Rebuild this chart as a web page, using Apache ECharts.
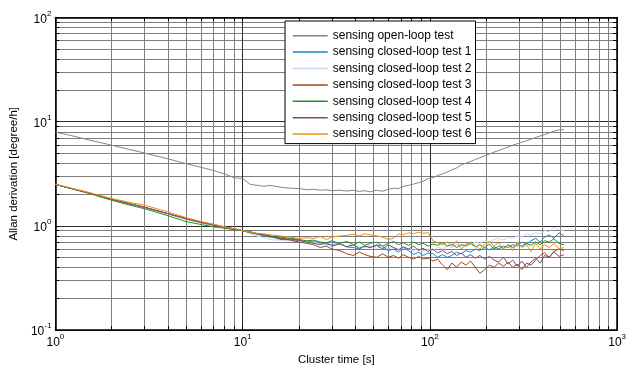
<!DOCTYPE html>
<html>
<head>
<meta charset="utf-8">
<script src="https://cdn.jsdelivr.net/npm/echarts@6/dist/echarts.min.js"></script>
<style>
  html, body { margin: 0; padding: 0; background: #fff; }
  #chart { width: 629px; height: 371px; }
</style>
</head>
<body>
<div id="chart"></div>
<script>
// Cluster times (s)
const tau = [1, 1.2, 1.5, 2, 2.5, 3, 4, 5, 6, 7, 8, 9, 10, 11, 12, 13, 14, 16, 18,
  20, 22, 24, 26, 28, 30, 33, 36, 39, 42, 45, 48, 52, 56, 60, 64, 68, 72,
  77, 82, 87, 92, 98, 104, 110, 117, 124, 131, 139, 147, 156, 165, 175, 185, 196,
  208, 220, 233, 247, 262, 277, 293, 310, 328, 347, 367, 388, 410, 434, 460, 490, 520];

// Allan deviation (degree/h)
const openLoop = [7.95, 7.4, 6.7, 5.95, 5.4, 5.0, 4.4, 3.95, 3.65, 3.4, 3.15, 2.9, 2.85, 2.5, 2.45, 2.4, 2.45, 2.35, 2.3,
  2.28, 2.22, 2.25, 2.2, 2.22, 2.18, 2.2, 2.16, 2.2, 2.14, 2.18, 2.12, 2.2, 2.15, 2.25, 2.3, 2.28, 2.4,
  2.45, 2.52, 2.6, 2.68, 2.85, 2.9, 3.05, 3.15, 3.3, 3.45, 3.6, 3.85, 4.0, 4.15, 4.35, 4.5, 4.7,
  4.9, 5.1, 5.3, 5.5, 5.7, 5.95, 6.15, 6.35, 6.55, 6.8, 7.05, 7.3, 7.5, 7.8, 8.1, 8.35, 8.4];

const closedLoop1 = [2.5, 2.3, 2.08, 1.8, 1.62, 1.5, 1.3, 1.16, 1.07, 1.01, 0.97, 0.93, 0.9, 0.86, 0.83, 0.8, 0.78, 0.76, 0.74,
  0.72, 0.7, 0.71, 0.68, 0.67, 0.66, 0.68, 0.63, 0.62, 0.6, 0.64, 0.62, 0.66, 0.63, 0.58, 0.6, 0.56, 0.62,
  0.58, 0.53, 0.56, 0.52, 0.55, 0.54, 0.5, 0.53, 0.5, 0.52, 0.56, 0.54, 0.58, 0.56, 0.6, 0.58, 0.62,
  0.59, 0.63, 0.6, 0.64, 0.62, 0.66, 0.64, 0.7, 0.67, 0.72, 0.76, 0.7, 0.78, 0.82, 0.76, 0.86, 0.8];

const closedLoop2 = [2.5, 2.3, 2.08, 1.8, 1.62, 1.5, 1.3, 1.17, 1.08, 1.02, 0.97, 0.93, 0.9, 0.84, 0.8, 0.77, 0.74, 0.73, 0.72,
  0.71, 0.69, 0.7, 0.67, 0.69, 0.65, 0.67, 0.64, 0.66, 0.63, 0.62, 0.65, 0.61, 0.64, 0.6, 0.63, 0.59, 0.62,
  0.6, 0.58, 0.61, 0.57, 0.6, 0.58, 0.62, 0.6, 0.64, 0.62, 0.66, 0.64, 0.68, 0.66, 0.7, 0.68, 0.72,
  0.7, 0.74, 0.76, 0.73, 0.78, 0.76, 0.8, 0.78, 0.84, 0.81, 0.86, 0.84, 0.9, 0.88, 0.97, 0.92, 0.9];

const closedLoop3 = [2.5, 2.3, 2.08, 1.8, 1.63, 1.51, 1.31, 1.17, 1.08, 1.02, 0.97, 0.93, 0.9, 0.87, 0.84, 0.82, 0.8, 0.76, 0.73,
  0.7, 0.68, 0.66, 0.62, 0.64, 0.6, 0.58, 0.54, 0.52, 0.56, 0.53, 0.51, 0.5, 0.54, 0.5, 0.52, 0.49, 0.53,
  0.5, 0.48, 0.51, 0.48, 0.49, 0.46, 0.48, 0.42, 0.38, 0.44, 0.4, 0.45, 0.42, 0.46, 0.4, 0.35, 0.38,
  0.42, 0.4, 0.44, 0.41, 0.45, 0.4, 0.43, 0.38, 0.44, 0.42, 0.47, 0.52, 0.55, 0.5, 0.57, 0.6, 0.58];

const closedLoop4 = [2.5, 2.29, 2.06, 1.76, 1.58, 1.46, 1.25, 1.1, 1.03, 0.98, 0.95, 0.92, 0.9, 0.86, 0.84, 0.82, 0.8, 0.78, 0.76,
  0.74, 0.72, 0.73, 0.7, 0.69, 0.72, 0.68, 0.71, 0.66, 0.7, 0.65, 0.68, 0.7, 0.64, 0.68, 0.71, 0.66, 0.69,
  0.65, 0.7, 0.66, 0.68, 0.64, 0.67, 0.65, 0.69, 0.64, 0.67, 0.62, 0.66, 0.64, 0.68, 0.63, 0.66, 0.62,
  0.67, 0.6, 0.64, 0.61, 0.66, 0.62, 0.67, 0.64, 0.68, 0.65, 0.7, 0.66, 0.72, 0.7, 0.75, 0.68, 0.66];

const closedLoop5 = [2.5, 2.3, 2.08, 1.81, 1.63, 1.51, 1.31, 1.18, 1.09, 1.03, 0.98, 0.94, 0.9, 0.88, 0.84, 0.82, 0.8, 0.74, 0.75,
  0.73, 0.7, 0.68, 0.66, 0.69, 0.64, 0.67, 0.63, 0.66, 0.61, 0.64, 0.62, 0.65, 0.6, 0.66, 0.62, 0.59, 0.63,
  0.6, 0.64, 0.58, 0.61, 0.57, 0.6, 0.55, 0.58, 0.54, 0.57, 0.52, 0.55, 0.5, 0.53, 0.49, 0.52, 0.48,
  0.51, 0.47, 0.45, 0.5, 0.43, 0.47, 0.41, 0.46, 0.4, 0.45, 0.49, 0.44, 0.52, 0.5, 0.56, 0.51, 0.53];

const closedLoop6 = [2.52, 2.32, 2.1, 1.83, 1.68, 1.58, 1.36, 1.2, 1.1, 1.04, 0.98, 0.94, 0.9, 0.87, 0.85, 0.84, 0.82, 0.8, 0.78,
  0.76, 0.77, 0.76, 0.79, 0.74, 0.78, 0.8, 0.81, 0.83, 0.8, 0.84, 0.82, 0.8, 0.78, 0.74, 0.76, 0.84, 0.82,
  0.86, 0.84, 0.87, 0.85, 0.86, 0.72, 0.69, 0.66, 0.7, 0.64, 0.72, 0.6, 0.66, 0.7, 0.64, 0.6, 0.66,
  0.71, 0.64, 0.69, 0.6, 0.66, 0.58, 0.7, 0.62, 0.66, 0.57, 0.68, 0.6, 0.66, 0.62, 0.68, 0.6, 0.62];

const seriesNames = [
  'sensing open-loop test',
  'sensing closed-loop test 1',
  'sensing closed-loop test 2',
  'sensing closed-loop test 3',
  'sensing closed-loop test 4',
  'sensing closed-loop test 5',
  'sensing closed-loop test 6'
];
const seriesValues = [openLoop, closedLoop1, closedLoop2, closedLoop3, closedLoop4, closedLoop5, closedLoop6];
const seriesColors = ['#868686', '#1a86c8', '#c4d9f6', '#a3441c', '#1f951f', '#7a4b78', '#f28e10'];

// Decade labels and 1..9 grid positions per decade
const xDecades = [1, 10, 100, 1000];
const yDecades = [0.1, 1, 10, 100];
function gridValues(decades) {
  const out = [];
  for (let i = 0; i < decades.length - 1; i++) {
    for (let m = 1; m <= 9; m++) out.push(Number((decades[i] * m).toPrecision(3)));
  }
  out.push(decades[decades.length - 1]);
  return out;
}
const xGrid = gridValues(xDecades);
const yGrid = gridValues(yDecades);

const FONT = 'Liberation Sans, Arial, sans-serif';
const powerLabel = v => '{b|10}{s|' + Math.round(Math.log10(v)) + '}';
const labelRich = {
  b: { fontSize: 12, fontFamily: FONT, color: '#000', lineHeight: 16, verticalAlign: 'bottom' },
  s: { fontSize: 8, fontFamily: FONT, color: '#000', lineHeight: 16, verticalAlign: 'top' }
};
const gridColors = ['#2a2a2a', '#7e7e7e', '#7e7e7e', '#7e7e7e', '#7e7e7e', '#7e7e7e', '#7e7e7e', '#7e7e7e', '#7e7e7e'];

function makeAxis(decades, grid, opts) {
  return Object.assign({
    type: 'log',
    logBase: 10,
    min: decades[0],
    max: decades[decades.length - 1],
    axisLine: { show: true, onZero: false, lineStyle: { color: '#000', width: 1.5 } },
    axisTick: { show: true, inside: true, length: 4, customValues: grid, lineStyle: { color: '#000', width: 1 } },
    minorTick: { show: false },
    splitLine: { show: false },
    axisLabel: { show: false }
  }, opts);
}

const option = {
  animation: false,
  backgroundColor: '#fff',
  grid: { left: 50, right: 6, top: 17.5, bottom: 40, containLabel: false },
  xAxis: [
    makeAxis(xDecades, xGrid, {
      position: 'bottom',
      name: 'Cluster time [s]',
      nameLocation: 'middle',
      nameGap: 21,
      nameTextStyle: { fontSize: 11.5, fontFamily: FONT, color: '#000' },
      splitLine: { show: true, lineStyle: { color: gridColors, width: 1 } },
      axisLabel: { show: true, customValues: xDecades, margin: 3, formatter: powerLabel, rich: labelRich }
    }),
    makeAxis(xDecades, xGrid, { position: 'top' })
  ],
  yAxis: [
    makeAxis(yDecades, yGrid, {
      position: 'left',
      name: 'Allan derivation [degree/h]',
      nameLocation: 'middle',
      nameGap: 32,
      nameTextStyle: { fontSize: 11.5, fontFamily: FONT, color: '#000' },
      splitLine: { show: true, lineStyle: { color: gridColors, width: 1 } },
      axisLabel: { show: true, customValues: yDecades, margin: 4, formatter: powerLabel, rich: labelRich }
    }),
    makeAxis(yDecades, yGrid, { position: 'right' })
  ],
  legend: {
    orient: 'vertical',
    left: 285,
    top: 21,
    padding: [7.7, 4, 2.5, 7],
    itemWidth: 35,
    itemHeight: 14,
    itemGap: 2.4,
    backgroundColor: '#fff',
    borderColor: '#000',
    borderWidth: 1,
    borderRadius: 0,
    itemStyle: { opacity: 0 },
    lineStyle: { width: 1.5 },
    textStyle: { fontSize: 12, fontFamily: FONT, color: '#000', lineHeight: 14 },
    data: seriesNames
  },
  series: seriesNames.map((name, i) => ({
    name: name,
    type: 'line',
    xAxisIndex: 0,
    yAxisIndex: 0,
    symbol: 'none',
    smooth: false,
    color: seriesColors[i],
    lineStyle: { width: 1, color: seriesColors[i] },
    data: tau.map((t, k) => [t, seriesValues[i][k]])
  }))
};

const chart = echarts.init(document.getElementById('chart'), null, { renderer: 'canvas' });
chart.setOption(option);
</script>
</body>
</html>
